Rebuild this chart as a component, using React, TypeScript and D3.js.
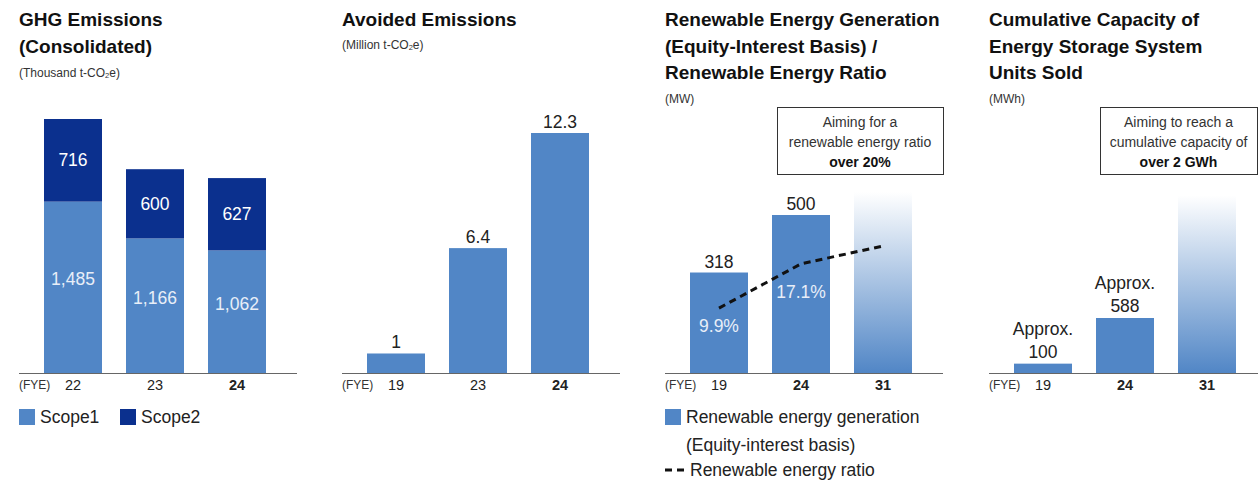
import * as d3 from 'd3';

// Data
const ghgYears = ['22', '23', '24'];
const scope1 = [1485, 1166, 1062];
const scope2 = [716, 600, 627];

const avoidedYears = ['19', '23', '24'];
const avoided = [1, 6.4, 12.3];
const avoidedLabels = ['1', '6.4', '12.3'];

const reYears = ['19', '24', '31'];
const reGeneration = [318, 500];
const reTarget = 573; // height of the FYE31 target bar (MW, estimated)
const reRatio = [9.9, 17.1, 20];
const reRatioLabels = ['9.9%', '17.1%'];

const essYears = ['19', '24', '31'];
const essCapacity = [100, 588];
const essTarget = 1900; // height of the FYE31 target bar (MWh, estimated)

const boldYears = ['24', '31'];

// Layout
const W = 1258;
const H = 481;
const BASE = 373;
const FONT = "'Liberation Sans', Arial, Helvetica, sans-serif";
const LIGHT = '#5186c6';
const DARK = '#0b308e';
const TEXT = '#222';
const panelX = [19, 342, 665, 989];

const band = (x0: number, domain: string[]) =>
  d3.scaleBand<string>().domain(domain).range([x0 + 1, x0 + 271]).padding(0.2927);

function Title({ x, lines, sub, subY }: { x: number; lines: string[]; sub: string; subY: number }) {
  return (
    <g fontFamily={FONT}>
      {lines.map((l, i) => (
        <text key={i} x={x} y={26 + i * 26.5} fontSize={19} fontWeight={700} fill="#111">{l}</text>
      ))}
      <text x={x} y={subY} fontSize={12} fill="#333">
        {sub.includes('CO2') ? (
          <>
            {sub.split('CO2')[0]}CO<tspan fontSize={7.5} dy={1}>2</tspan><tspan dy={-1}>{sub.split('CO2')[1]}</tspan>
          </>
        ) : sub}
      </text>
    </g>
  );
}

function Axis({ x0, x, years, end = 278 }: { x0: number; x: d3.ScaleBand<string>; years: string[]; end?: number }) {
  return (
    <g fontFamily={FONT}>
      <line x1={x0} x2={Math.min(x0 + end, W)} y1={BASE + 0.5} y2={BASE + 0.5} stroke="#666" strokeWidth={1.2} />
      <text x={x0} y={389} fontSize={12} fill="#333">(FYE)</text>
      {years.map((y, i) => (
        <text key={y} x={x(y)! + x.bandwidth() / 2} y={390} fontSize={14.5} textAnchor="middle"
          fontWeight={i > 0 && boldYears.includes(y) ? 700 : 400} fill={TEXT}>{y}</text>
      ))}
    </g>
  );
}

function Box({ x, y, w, h, lines }: { x: number; y: number; w: number; h: number; lines: string[] }) {
  return (
    <g fontFamily={FONT}>
      <rect x={x + 0.5} y={y + 0.5} width={w} height={h} fill="#fff" stroke="#333" strokeWidth={1} />
      {lines.map((l, i) => (
        <text key={i} x={x + w / 2} y={y + 20 + i * 20} fontSize={14} textAnchor="middle"
          fontWeight={i === 2 ? 700 : 400} fill={i === 2 ? '#111' : '#333'}>{l}</text>
      ))}
    </g>
  );
}

export default function App() {
  // Panel 1: GHG
  const x1 = band(panelX[0], ghgYears);
  const y1 = d3.scaleLinear().domain([0, 2201]).range([BASE, 119]);

  // Panel 2: Avoided
  const x2 = band(panelX[1], avoidedYears);
  const y2 = d3.scaleLinear().domain([0, 12.3]).range([BASE, 133]);

  // Panel 3: Renewable
  const x3 = band(panelX[2], reYears);
  const y3 = d3.scaleLinear().domain([0, 500]).range([BASE, 215]);
  const yr = d3.scaleLinear().domain([0, 20]).range([369, 246]);
  const ratioLine = d3.line<number>()
    .x((_, i) => x3(reYears[i])! + x3.bandwidth() / 2)
    .y(d => yr(d));
  const ratioLabelDy = [24, 34];

  // Panel 4: ESS
  const x4 = band(panelX[3], essYears);
  const y4 = d3.scaleLinear().domain([0, 588]).range([BASE, 318]);

  const bw = x1.bandwidth();
  const cx = (s: d3.ScaleBand<string>, k: string) => s(k)! + s.bandwidth() / 2;

  return (
    <svg width={W} height={H} style={{ position: 'absolute', left: 0, top: 0, background: '#fff' }}>
      <defs>
        <linearGradient id="tgt" x1="0" y1="0" x2="0" y2="1">
          <stop offset="0%" stopColor="#ffffff" />
          <stop offset="100%" stopColor={LIGHT} />
        </linearGradient>
      </defs>

      {/* GHG */}
      <Title x={panelX[0]} lines={['GHG Emissions', '(Consolidated)']} sub="(Thousand t-CO2e)" subY={77} />
      {ghgYears.map((k, i) => {
        const top1 = y1(scope1[i]);
        const top2 = y1(scope1[i] + scope2[i]);
        return (
          <g key={k} fontFamily={FONT} fontSize={17.5} textAnchor="middle">
            <rect x={x1(k)} y={top1} width={bw} height={BASE - top1} fill={LIGHT} />
            <rect x={x1(k)} y={top2} width={bw} height={top1 - top2} fill={DARK} />
            <text x={cx(x1, k)} y={(top2 + top1) / 2 + 6} fill="#fff">{scope2[i]}</text>
            <text x={cx(x1, k)} y={(top1 + BASE) / 2 - 2} fill="#e8eef8">{d3.format(',')(scope1[i])}</text>
          </g>
        );
      })}
      <Axis x0={panelX[0]} x={x1} years={ghgYears} />
      <g fontFamily={FONT} fontSize={17.5} fill={TEXT}>
        <rect x={19} y={409} width={16} height={16} fill={LIGHT} />
        <text x={40} y={423}>Scope1</text>
        <rect x={120} y={409} width={16} height={16} fill={DARK} />
        <text x={141} y={423}>Scope2</text>
      </g>

      {/* Avoided */}
      <Title x={panelX[1]} lines={['Avoided Emissions']} sub="(Million t-CO2e)" subY={49} />
      {avoidedYears.map((k, i) => (
        <g key={k} fontFamily={FONT} fontSize={17.5} textAnchor="middle">
          <rect x={x2(k)} y={y2(avoided[i])} width={bw} height={BASE - y2(avoided[i])} fill={LIGHT} />
          <text x={cx(x2, k)} y={y2(avoided[i]) - 5} fill={TEXT}>{avoidedLabels[i]}</text>
        </g>
      ))}
      <Axis x0={panelX[1]} x={x2} years={avoidedYears} />

      {/* Renewable */}
      <Title x={panelX[2]} lines={['Renewable Energy Generation', '(Equity-Interest Basis) /', 'Renewable Energy Ratio']} sub="(MW)" subY={103} />
      <Box x={777} y={107} w={166} h={67} lines={['Aiming for a', 'renewable energy ratio', 'over 20%']} />
      {reGeneration.map((v, i) => (
        <g key={i} fontFamily={FONT} fontSize={17.5} textAnchor="middle">
          <rect x={x3(reYears[i])} y={y3(v)} width={bw} height={BASE - y3(v)} fill={LIGHT} />
          <text x={cx(x3, reYears[i])} y={y3(v) - 5} fill={TEXT}>{v}</text>
        </g>
      ))}
      <rect x={x3(reYears[2])} y={y3(reTarget)} width={bw} height={BASE - y3(reTarget)} fill="url(#tgt)" />
      <path d={ratioLine(reRatio) ?? ''} fill="none" stroke="#111" strokeWidth={3} strokeDasharray="7,5" strokeLinejoin="round" />
      {reRatioLabels.map((l, i) => (
        <text key={l} x={cx(x3, reYears[i])} y={yr(reRatio[i]) + ratioLabelDy[i]} fontFamily={FONT}
          fontSize={17.5} textAnchor="middle" fill="#e8eef8">{l}</text>
      ))}
      <Axis x0={panelX[2]} x={x3} years={reYears} />
      <g fontFamily={FONT} fontSize={17.5} fill={TEXT}>
        <rect x={665} y={409} width={16} height={16} fill={LIGHT} />
        <text x={686} y={423}>Renewable energy generation</text>
        <text x={686} y={451}>(Equity-interest basis)</text>
        <line x1={665} x2={685} y1={470} y2={470} stroke="#111" strokeWidth={3} strokeDasharray="7,5" />
        <text x={690} y={476}>Renewable energy ratio</text>
      </g>

      {/* ESS */}
      <Title x={panelX[3]} lines={['Cumulative Capacity of', 'Energy Storage System', 'Units Sold']} sub="(MWh)" subY={103} />
      <Box x={1100} y={107} w={157} h={67} lines={['Aiming to reach a', 'cumulative capacity of', 'over 2 GWh']} />
      {essCapacity.map((v, i) => (
        <g key={i} fontFamily={FONT} fontSize={17.5} textAnchor="middle" fill={TEXT}>
          <rect x={x4(essYears[i])} y={y4(v)} width={bw} height={BASE - y4(v)} fill={LIGHT} />
          <text x={cx(x4, essYears[i])} y={y4(v) - 29}>Approx.</text>
          <text x={cx(x4, essYears[i])} y={y4(v) - 6}>{v}</text>
        </g>
      ))}
      <rect x={x4(essYears[2])} y={y4(essTarget)} width={bw} height={BASE - y4(essTarget)} fill="url(#tgt)" />
      <Axis x0={panelX[3]} x={x4} years={essYears} end={269} />
    </svg>
  );
}
